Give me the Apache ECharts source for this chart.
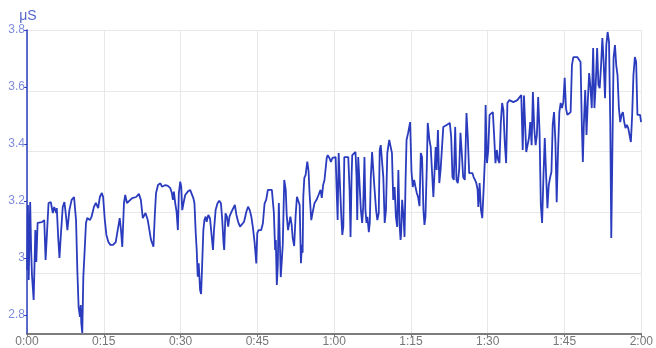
<!DOCTYPE html>
<html>
<head>
<meta charset="utf-8">
<script src="https://cdn.jsdelivr.net/npm/echarts@6/dist/echarts.min.js"></script>
<style>
  html, body { margin: 0; padding: 0; background: #fff; }
  #chart { width: 656px; height: 348px; }
</style>
</head>
<body>
<div id="chart"></div>
<script>
// Skin conductance over a two-hour session (time in minutes, value in µS)
const timeMin = [
  0.04, 0.19, 0.33, 0.62, 0.81, 0.97, 1.30, 1.63, 1.82, 2.07, 2.46, 2.91, 3.37, 3.63, 3.88, 4.21, 4.65, 5.04, 5.31, 5.70,
  5.82, 6.09, 6.34, 6.59, 6.98, 7.31, 7.64, 7.89, 8.28, 8.72, 9.19, 9.58, 9.83, 10.08, 10.35, 10.50, 10.60, 10.80, 11.00, 11.24,
  11.52, 11.77, 12.29, 12.60, 13.07, 13.45, 13.90, 14.23, 14.62, 14.87, 15.20, 15.51, 15.90, 16.29, 16.81, 17.33, 17.72, 18.11, 18.36, 18.61,
  18.94, 19.19, 19.52, 19.91, 20.55, 21.33, 21.85, 22.24, 22.62, 23.15, 23.59, 24.23, 24.70, 24.95, 25.20, 25.59, 26.06, 26.37, 26.70, 27.03,
  27.53, 28.00, 28.31, 28.50, 28.69, 28.96, 29.22, 29.47, 29.66, 29.93, 30.13, 30.32, 30.57, 30.90, 31.41, 31.87, 32.18, 32.51, 32.71, 32.96,
  33.15, 33.35, 33.54, 33.81, 34.01, 34.20, 34.45, 34.65, 34.90, 35.09, 35.42, 35.75, 36.06, 36.33, 36.53, 36.84, 37.22, 37.55, 37.88, 38.14,
  38.39, 38.52, 38.77, 39.05, 39.30, 39.55, 39.94, 40.33, 40.60, 40.91, 41.24, 41.62, 42.01, 42.40, 42.85, 43.18, 43.51, 43.82, 44.15, 44.47,
  44.79, 44.98, 45.25, 45.75, 46.08, 46.41, 46.72, 47.05, 47.38, 47.83, 48.22, 48.47, 48.60, 48.80, 48.99, 49.19, 49.38, 49.57, 49.77, 49.96,
  50.25, 50.54, 50.73, 50.99, 51.45, 51.70, 51.90, 52.19, 52.48, 52.73, 53.06, 53.26, 53.51, 53.70, 53.84, 53.97, 54.17, 54.42, 54.75, 55.00,
  55.19, 55.53, 55.78, 56.17, 56.56, 56.95, 57.34, 57.58, 57.85, 58.11, 58.36, 58.55, 58.74, 59.07, 59.36, 59.66, 60.04, 60.29, 60.53, 60.68,
  60.88, 61.21, 61.40, 61.59, 61.79, 61.98, 62.37, 62.76, 63.01, 63.20, 63.40, 63.53, 63.92, 64.17, 64.37, 64.51, 64.70, 64.95, 65.22, 65.47,
  65.67, 65.92, 66.11, 66.31, 66.50, 66.77, 66.96, 67.16, 67.41, 67.66, 67.86, 68.19, 68.44, 68.71, 68.90, 69.10, 69.35, 69.60, 69.87, 70.12,
  70.38, 70.76, 71.04, 71.29, 71.54, 71.81, 72.06, 72.31, 72.54, 72.78, 72.97, 73.09, 73.28, 73.52, 73.75, 73.95, 74.14, 74.45, 74.84, 75.11,
  75.36, 75.62, 75.89, 76.14, 76.39, 76.67, 76.92, 77.17, 77.44, 77.64, 77.83, 78.08, 78.28, 78.61, 78.86, 79.11, 79.38, 79.58, 79.83, 80.02,
  80.27, 80.54, 80.79, 81.05, 81.32, 81.63, 81.96, 82.28, 82.59, 82.86, 83.11, 83.37, 83.64, 83.89, 84.15, 84.42, 84.67, 84.93, 85.20, 85.52,
  85.85, 86.10, 86.37, 86.74, 87.00, 87.24, 87.51, 87.77, 88.02, 88.16, 88.41, 88.68, 88.93, 89.19, 89.46, 89.58, 89.85, 90.10, 90.35, 90.68,
  91.00, 91.26, 91.51, 91.78, 92.03, 92.29, 92.55, 92.81, 93.06, 93.33, 93.59, 93.84, 94.23, 94.62, 95.01, 95.39, 95.78, 96.17, 96.55, 96.83,
  97.08, 97.52, 97.79, 98.05, 98.30, 98.57, 98.82, 99.08, 99.35, 99.60, 99.85, 100.12, 100.37, 100.62, 100.89, 101.14, 101.40, 101.66, 101.92, 102.17,
  102.44, 102.69, 102.95, 103.22, 103.47, 103.72, 103.99, 104.25, 104.50, 104.77, 105.03, 105.28, 105.55, 105.94, 106.19, 106.45, 106.72, 107.10, 107.49, 107.88,
  108.13, 108.38, 108.58, 108.77, 109.04, 109.29, 109.54, 109.81, 110.07, 110.32, 110.59, 110.84, 111.09, 111.37, 111.62, 111.87, 112.14, 112.39, 112.64, 112.91,
  113.16, 113.42, 113.69, 113.94, 114.13, 114.33, 114.58, 114.85, 115.10, 115.35, 115.62, 115.88, 116.13, 116.40, 116.66, 116.91, 117.18, 117.44, 117.69, 117.96,
  118.21, 118.46, 118.74, 118.99, 119.24, 119.51, 119.76, 119.95
];

const conductance = [
  2.958, 3.186, 2.923, 3.196, 3.028, 2.940, 2.853, 3.098, 2.986, 3.123, 3.126, 3.126, 3.133, 2.993, 2.993, 3.193, 3.196, 3.158, 3.179, 3.158,
  3.175, 3.074, 3.000, 3.074, 3.179, 3.196, 3.144, 3.098, 3.168, 3.204, 3.214, 3.133, 2.958, 2.828, 2.793, 2.835, 2.772, 2.737, 2.933, 3.018,
  3.123, 3.140, 3.133, 3.144, 3.179, 3.193, 3.175, 3.214, 3.228, 3.214, 3.133, 3.081, 3.056, 3.046, 3.046, 3.056, 3.098, 3.140, 3.098, 3.039,
  3.193, 3.221, 3.193, 3.196, 3.210, 3.214, 3.225, 3.204, 3.140, 3.158, 3.133, 3.063, 3.040, 3.145, 3.227, 3.256, 3.262, 3.250, 3.245, 3.256,
  3.253, 3.245, 3.227, 3.204, 3.233, 3.192, 3.162, 3.098, 3.227, 3.268, 3.250, 3.168, 3.192, 3.221, 3.233, 3.239, 3.233, 3.209, 3.192, 3.087,
  3.028, 2.934, 2.981, 2.888, 2.874, 2.969, 3.098, 3.133, 3.145, 3.127, 3.151, 3.139, 3.145, 3.028, 3.098, 3.168, 3.192, 3.201, 3.192, 3.133,
  3.052, 3.028, 3.157, 3.145, 3.110, 3.145, 3.162, 3.168, 3.186, 3.151, 3.127, 3.110, 3.116, 3.127, 3.162, 3.180, 3.168, 3.145, 3.104, 3.052,
  2.981, 3.087, 3.098, 3.098, 3.122, 3.192, 3.204, 3.239, 3.245, 3.239, 3.160, 3.028, 3.063, 2.905, 2.975, 3.193, 3.063, 2.933, 2.940, 3.046,
  3.274, 3.239, 3.151, 3.098, 3.145, 3.116, 3.070, 3.042, 3.151, 3.215, 3.211, 3.186, 2.982, 3.046, 3.018, 3.214, 3.281, 3.291, 3.338, 3.305,
  3.228, 3.133, 3.158, 3.193, 3.204, 3.221, 3.239, 3.211, 3.256, 3.274, 3.270, 3.351, 3.361, 3.351, 3.337, 3.351, 3.351, 3.354, 3.214, 3.133,
  3.368, 3.361, 3.144, 3.081, 3.109, 3.354, 3.361, 3.354, 3.239, 3.074, 3.284, 3.361, 3.368, 3.372, 3.284, 3.133, 3.354, 3.361, 3.168, 3.123,
  3.179, 3.354, 3.168, 3.123, 3.144, 3.091, 3.123, 3.284, 3.372, 3.379, 3.249, 3.168, 3.133, 3.158, 3.379, 3.396, 3.389, 3.284, 3.123, 3.168,
  3.368, 3.414, 3.407, 3.368, 3.204, 3.249, 3.144, 3.109, 3.309, 3.116, 3.063, 3.088, 3.204, 3.151, 3.074, 3.274, 3.414, 3.439, 3.477, 3.302,
  3.249, 3.274, 3.249, 3.228, 3.214, 3.182, 3.368, 3.354, 3.168, 3.116, 3.144, 3.309, 3.474, 3.414, 3.389, 3.389, 3.214, 3.214, 3.389, 3.309,
  3.449, 3.263, 3.309, 3.309, 3.460, 3.456, 3.467, 3.460, 3.474, 3.425, 3.284, 3.274, 3.460, 3.274, 3.263, 3.309, 3.439, 3.368, 3.284, 3.274,
  3.509, 3.425, 3.298, 3.302, 3.298, 3.284, 3.274, 3.263, 3.239, 3.179, 3.263, 3.168, 3.140, 3.239, 3.354, 3.537, 3.333, 3.379, 3.502, 3.509,
  3.512, 3.425, 3.333, 3.379, 3.344, 3.333, 3.474, 3.544, 3.519, 3.404, 3.333, 3.544, 3.554, 3.554, 3.547, 3.554, 3.554, 3.561, 3.572, 3.379,
  3.570, 3.372, 3.368, 3.421, 3.477, 3.396, 3.582, 3.456, 3.396, 3.432, 3.565, 3.442, 3.186, 3.123, 3.291, 3.421, 3.291, 3.175, 3.256, 3.281,
  3.302, 3.467, 3.512, 3.407, 3.196, 3.372, 3.512, 3.544, 3.526, 3.547, 3.632, 3.526, 3.502, 3.509, 3.512, 3.677, 3.705, 3.702, 3.705, 3.702,
  3.688, 3.467, 3.337, 3.467, 3.589, 3.432, 3.547, 3.649, 3.596, 3.526, 3.737, 3.526, 3.607, 3.737, 3.607, 3.596, 3.677, 3.772, 3.688, 3.561,
  3.747, 3.793, 3.758, 3.467, 3.070, 3.351, 3.702, 3.747, 3.677, 3.642, 3.526, 3.477, 3.502, 3.512, 3.477, 3.456, 3.467, 3.456, 3.432, 3.407,
  3.502, 3.642, 3.705, 3.688, 3.502, 3.495, 3.502, 3.477
];

// Labelled ticks on the value axis
const yTickValues = [2.8, 3.0, 3.2, 3.4, 3.6, 3.8];
const yMin = 2.7333;
const yMax = 3.8;

// Time axis: ticks every 15 minutes over two hours
const xMin = 0;
const xMax = 120;
const xStep = 15;

const lineColor = '#2a3cbd';

function formatClock(m) {
  const h = Math.floor(m / 60);
  const mm = Math.round(m % 60);
  return h + ':' + (mm < 10 ? '0' : '') + mm;
}

const seriesData = timeMin.map((t, i) => [t, conductance[i]]);

const chart = echarts.init(document.getElementById('chart'), null, { renderer: 'canvas' });

chart.setOption({
  animation: false,
  backgroundColor: '#ffffff',
  grid: { left: 27, right: 10, top: 30, bottom: 14 },
  xAxis: {
    type: 'value',
    min: xMin,
    max: xMax,
    interval: xStep,
    axisLine: { show: true, onZero: false, lineStyle: { color: '#555', width: 1.5 } },
    axisTick: { show: true, length: 3, lineStyle: { color: '#777' } },
    axisLabel: {
      color: '#777',
      fontSize: 12,
      fontFamily: 'Liberation Sans, Arial, sans-serif',
      margin: 2,
      alignMinLabel: 'center',
      alignMaxLabel: 'center',
      formatter: formatClock
    },
    splitLine: { show: true, lineStyle: { color: '#e8e8e8', width: 1 } }
  },
  yAxis: [
    {
      type: 'value',
      min: yMin,
      max: yMax,
      name: 'μS',
      nameLocation: 'end',
      nameGap: 7,
      nameTextStyle: {
        color: '#5566cc',
        fontSize: 14,
        fontFamily: 'Liberation Sans, Arial, sans-serif',
        padding: [0, 0, 0, 2]
      },
      axisLine: { show: true, onZero: false, lineStyle: { color: lineColor, width: 1.5 } },
      axisTick: { show: true, length: 3, customValues: yTickValues, lineStyle: { color: lineColor } },
      axisLabel: {
        color: '#7f8bdc',
        fontSize: 12,
        fontFamily: 'Liberation Sans, Arial, sans-serif',
        margin: 2,
        customValues: yTickValues,
        formatter: v => String(+Number(v).toFixed(1))
      },
      splitLine: { show: false }
    },
    {
      // Evenly spaced background grid rows
      type: 'value',
      min: 0,
      max: 5,
      interval: 1,
      position: 'left',
      axisLine: { show: false },
      axisTick: { show: false },
      axisLabel: { show: false },
      splitLine: { show: true, lineStyle: { color: '#e8e8e8', width: 1 } }
    }
  ],
  series: [
    {
      type: 'line',
      yAxisIndex: 0,
      data: seriesData,
      showSymbol: false,
      symbol: 'none',
      smooth: false,
      lineStyle: { color: lineColor, width: 1.8 },
      z: 5
    }
  ]
});
</script>
</body>
</html>
